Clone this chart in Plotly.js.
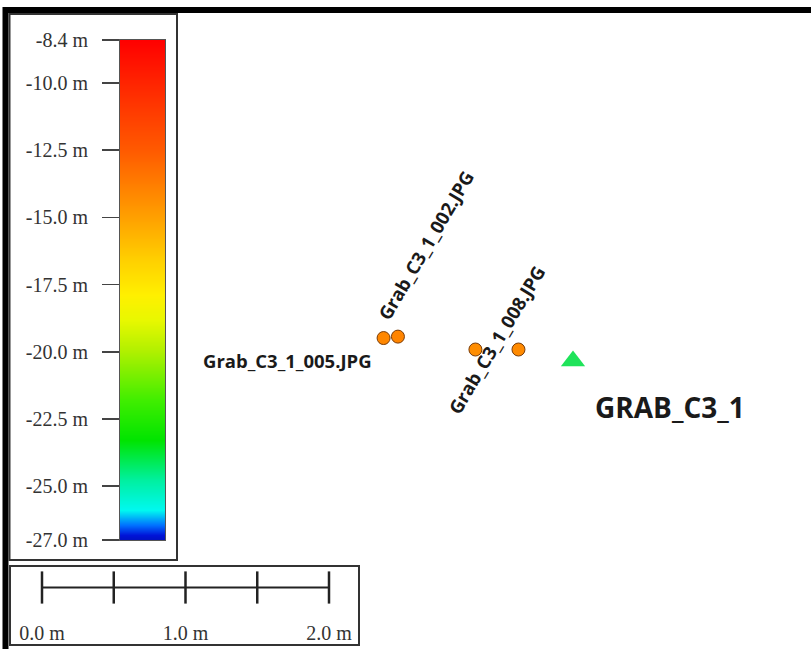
<!DOCTYPE html>
<html>
<head>
<meta charset="utf-8">
<script src="https://cdn.plot.ly/plotly-3.0.1.min.js"></script>
<style>html,body{margin:0;padding:0;background:#fff;}#chart{width:811px;height:649px;}</style>
</head>
<body>
<div id="chart"></div>
<script>
// ---- data ----
const photoNames  = ['Grab_C3_1_005.JPG', 'Grab_C3_1_002.JPG', '', 'Grab_C3_1_008.JPG'];
const photoX      = [-1.32, -1.22, -0.68, -0.38];   // metres east of station
const photoY      = [0.16, 0.17, 0.08, 0.08];       // metres north of station
const photoDepth  = [-14.1, -14.0, -14.3, -14.2];   // m
const stationName = ['GRAB_C3_1'];
const stationX    = [0];
const stationY    = [0];
const depthTickVals = [-8.4, -10.0, -12.5, -15.0, -17.5, -20.0, -22.5, -25.0, -27.0];
const depthTickText = ['-8.4 m', '-10.0 m', '-12.5 m', '-15.0 m', '-17.5 m', '-20.0 m', '-22.5 m', '-25.0 m', '-27.0 m'];
const scaleTicks      = [0, 0.5, 1.0, 1.5, 2.0];
const scaleLabelVals  = [0, 1.0, 2.0];
const scaleLabelText  = ['0.0 m', '1.0 m', '2.0 m'];

// ---- styling ----
const W = 811, H = 649;
const px = v => v / W;
const py = v => 1 - v / H;
const depthMax = Math.max(...depthTickVals), depthMin = Math.min(...depthTickVals);
const cscale = [
  [0.00, '#0010c0'], [0.01, '#0014d8'], [0.03, '#0070ff'], [0.06, '#00f8f0'],
  [0.12, '#00f0a0'], [0.20, '#00e400'], [0.28, '#40ee00'], [0.378, '#b0f000'],
  [0.44, '#e8f800'], [0.49, '#fff000'], [0.56, '#ffd000'], [0.646, '#ffa000'],
  [0.78, '#ff5a00'], [0.886, '#ff3000'], [1.00, '#ff0000']
];
const labelFont = {family: 'Open Sans, sans-serif', size: 18.5, color: '#1a1a1a', weight: 700};
const serifFont = {family: 'Liberation Serif, serif', size: 20, color: '#333'};
// label offsets (pixels) per photo
const labelStyle = [
  {xshift: -10, yshift: -22, textangle: 0, xanchor: 'right'},
  {xshift: 28, yshift: 92, textangle: -59.5, xanchor: 'center'},
  null,
  {xshift: -22, yshift: 10, textangle: -59, xanchor: 'center'}
];

// ---- traces ----
const traces = [];
traces.push({
  type: 'heatmap', xaxis: 'x2', yaxis: 'y2',
  x: [0, 1], y: [depthMin, depthMax],
  z: [[depthMin, depthMin], [depthMax, depthMax]],
  zmin: depthMin, zmax: depthMax, colorscale: cscale,
  zsmooth: 'best', showscale: false, hoverinfo: 'skip'
});
traces.push({
  type: 'scatter', mode: 'markers', x: photoX, y: photoY, text: photoNames,
  marker: {size: 13, color: photoDepth, colorscale: cscale, cmin: depthMin, cmax: depthMax,
           showscale: false, line: {color: '#7a3c08', width: 1}},
  hoverinfo: 'text'
});
traces.push({
  type: 'scatter', mode: 'markers', x: stationX, y: stationY, text: stationName,
  marker: {size: 21, symbol: 'triangle-up', color: '#1fe35a', line: {width: 0}},
  hoverinfo: 'text'
});
traces.push({
  type: 'scatter', mode: 'lines', xaxis: 'x3', yaxis: 'y3',
  x: [scaleTicks[0], scaleTicks[scaleTicks.length - 1]], y: [0, 0],
  line: {color: '#222', width: 2}, cliponaxis: false, hoverinfo: 'skip'
});
traces.push({
  type: 'scatter', mode: 'markers', xaxis: 'x3', yaxis: 'y3',
  x: scaleTicks, y: scaleTicks.map(() => 0),
  marker: {symbol: 'line-ns-open', size: 23, color: '#222', line: {color: '#222', width: 2.5}},
  cliponaxis: false, hoverinfo: 'skip'
});

// ---- annotations ----
const annotations = [];
photoNames.forEach((n, i) => {
  if (!n || !labelStyle[i]) return;
  const s = labelStyle[i];
  annotations.push({
    x: photoX[i], y: photoY[i], xref: 'x', yref: 'y', text: n, showarrow: false,
    xanchor: s.xanchor, yanchor: 'middle', xshift: s.xshift, yshift: s.yshift,
    textangle: s.textangle, font: labelFont
  });
});
stationName.forEach((n, i) => {
  annotations.push({
    x: stationX[i], y: stationY[i], xref: 'x', yref: 'y', text: n, showarrow: false,
    xanchor: 'left', yanchor: 'middle', xshift: 20, yshift: -46,
    font: {family: 'Open Sans, sans-serif', size: 28, color: '#1a1a1a', weight: 700}
  });
});

// ---- layout ----
const mPerPx = 1 / 143.5;
const layout = {
  width: W, height: H, margin: {l: 0, r: 0, t: 0, b: 0},
  paper_bgcolor: '#fff', plot_bgcolor: 'rgba(0,0,0,0)', showlegend: false,
  xaxis: {domain: [0, 1], range: [-573 * mPerPx, (W - 573) * mPerPx], visible: false, fixedrange: true},
  yaxis: {domain: [0, 1], range: [-(H - 361) * mPerPx, 361 * mPerPx], visible: false, fixedrange: true},
  xaxis2: {domain: [px(120), px(165)], range: [0, 1], anchor: 'y2', showticklabels: false, ticks: '',
           showgrid: false, zeroline: false, showline: true, mirror: true, linecolor: '#555', linewidth: 1},
  yaxis2: {domain: [py(540), py(40)], range: [depthMin, depthMax], anchor: 'x2', side: 'left',
           tickvals: depthTickVals, ticktext: depthTickText, ticks: 'outside', ticklen: 17,
           tickcolor: '#444', tickwidth: 1.5, ticklabelstandoff: 10, tickfont: serifFont,
           showgrid: false, zeroline: false, showline: true, mirror: true, linecolor: '#555', linewidth: 1},
  xaxis3: {domain: [px(42), px(329)], range: [0, 2], anchor: 'y3', tickvals: scaleLabelVals,
           ticktext: scaleLabelText, ticks: '', tickfont: serifFont, ticklabelstandoff: 19,
           showgrid: false, zeroline: false, showline: false},
  yaxis3: {domain: [py(600), py(575)], range: [-1, 1], anchor: 'x3', visible: false},
  annotations: annotations,
  shapes: [
    {type: 'line', xref: 'paper', yref: 'paper', x0: px(3), x1: 1, y0: py(10), y1: py(10), line: {color: '#000', width: 6}},
    {type: 'line', xref: 'paper', yref: 'paper', x0: px(5.5), x1: px(5.5), y0: py(7), y1: 0, line: {color: '#000', width: 6}},
    {type: 'rect', xref: 'paper', yref: 'paper', x0: px(9.5), x1: px(177), y0: py(560), y1: py(14), line: {color: '#333', width: 2}},
    {type: 'rect', xref: 'paper', yref: 'paper', x0: px(10), x1: px(359), y0: py(645), y1: py(566), line: {color: '#333', width: 2}}
  ]
};

Plotly.newPlot('chart', traces, layout, {staticPlot: true, displayModeBar: false});
</script>
</body>
</html>
